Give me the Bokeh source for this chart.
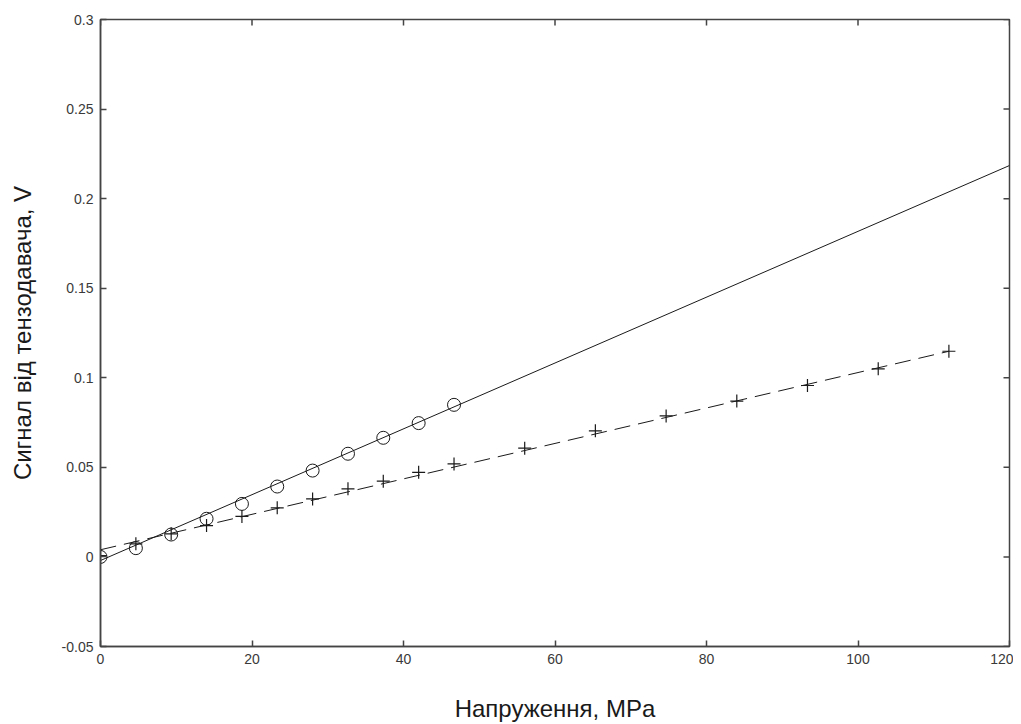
import math
from bokeh.plotting import figure
from bokeh.models import Range1d, LinearAxis, FixedTicker
from bokeh.embed import file_html
from bokeh.resources import INLINE

# Data
circle_x = [0, 4.67, 9.33, 14.0, 18.67, 23.33, 28.0, 32.67, 37.33, 42.0, 46.67]
circle_y = [0.000, 0.0049, 0.0125, 0.0213, 0.0296, 0.0393, 0.0482, 0.0576, 0.0665, 0.0747, 0.0849]

cross_x = [0, 4.67, 9.33, 14.0, 18.67, 23.33, 28.0, 32.67, 37.33, 42.0, 46.67,
           56.0, 65.33, 74.67, 84.0, 93.33, 102.67, 112.0]
cross_y = [0.0008, 0.0073, 0.0129, 0.0175, 0.0226, 0.0274, 0.0324, 0.038, 0.0423, 0.0472, 0.0519,
           0.0607, 0.0704, 0.0787, 0.087, 0.0957, 0.105, 0.1148]

fit_solid_x = [0, 120]
fit_solid_y = [-0.002, 0.2185]
fit_dash_x = [0, 112]
fit_dash_y = [0.004, 0.1148]

x_ticks = [0, 20, 40, 60, 80, 100, 120]
x_tick_labels = ["0", "20", "40", "60", "80", "100", "120"]
y_ticks = [-0.05, 0, 0.05, 0.1, 0.15, 0.2, 0.25, 0.3]
y_tick_labels = ["-0.05", "0", "0.05", "0.1", "0.15", "0.2", "0.25", "0.3"]

x_label = "Напруження, MPa"
y_label = "Сигнал від тензодавача, V"

X_MIN, X_MAX = 0, 120
Y_MIN, Y_MAX = -0.05, 0.3

FONT = "Liberation Sans"
AXIS_COLOR = "#444444"
TICK_TEXT = "#3a3a3a"
INK = "#1a1a1a"

p = figure(width=1013, height=724, output_backend="svg", toolbar_location=None,
           x_range=Range1d(X_MIN, X_MAX), y_range=Range1d(Y_MIN, Y_MAX),
           x_axis_type=None, y_axis_type=None,
           min_border_left=100, min_border_top=19, min_border_right=4, min_border_bottom=78)
p.grid.visible = False
p.outline_line_color = AXIS_COLOR
p.outline_line_width = 1.5
p.background_fill_color = "white"
p.border_fill_color = "white"


def style_axis(ax):
    ax.axis_line_color = AXIS_COLOR
    ax.axis_line_width = 1.5
    ax.major_tick_line_color = AXIS_COLOR
    ax.major_tick_line_width = 1.5
    ax.major_tick_in = 6
    ax.major_tick_out = 0
    ax.minor_tick_line_color = None
    ax.major_label_text_font = FONT
    ax.major_label_text_font_size = "14px"
    ax.major_label_text_color = TICK_TEXT
    ax.major_label_standoff = 7
    ax.axis_label_text_font = FONT
    ax.axis_label_text_font_size = "24px"
    ax.axis_label_text_font_style = "normal"
    ax.axis_label_text_color = INK


xb = LinearAxis(ticker=FixedTicker(ticks=x_ticks),
                major_label_overrides=dict(zip(x_ticks, x_tick_labels)),
                axis_label=x_label)
style_axis(xb)
xb.axis_label_standoff = 28
p.add_layout(xb, "below")

yl = LinearAxis(ticker=FixedTicker(ticks=y_ticks),
                major_label_overrides=dict(zip(y_ticks, y_tick_labels)),
                axis_label=y_label)
style_axis(yl)
yl.axis_label_standoff = 23
p.add_layout(yl, "left")

# mirrored inward ticks on the top and right edges of the box
p.ray(x=x_ticks, y=[Y_MAX] * len(x_ticks), length=6, length_units="screen",
      angle=-math.pi / 2, line_color=AXIS_COLOR, line_width=1.5)
p.ray(x=[X_MAX] * len(y_ticks), y=y_ticks, length=6, length_units="screen",
      angle=math.pi, line_color=AXIS_COLOR, line_width=1.5)

p.line(fit_solid_x, fit_solid_y, line_color=INK, line_width=1)
p.line(fit_dash_x, fit_dash_y, line_color=INK, line_width=1, line_dash="16 8")

p.scatter(circle_x, circle_y, marker="circle", size=13, fill_color=None,
          line_color=INK, line_width=1)
p.scatter(cross_x, cross_y, marker="cross", size=13, line_color=INK, line_width=1.2)

open("out.html", "w").write(file_html(p, INLINE))
